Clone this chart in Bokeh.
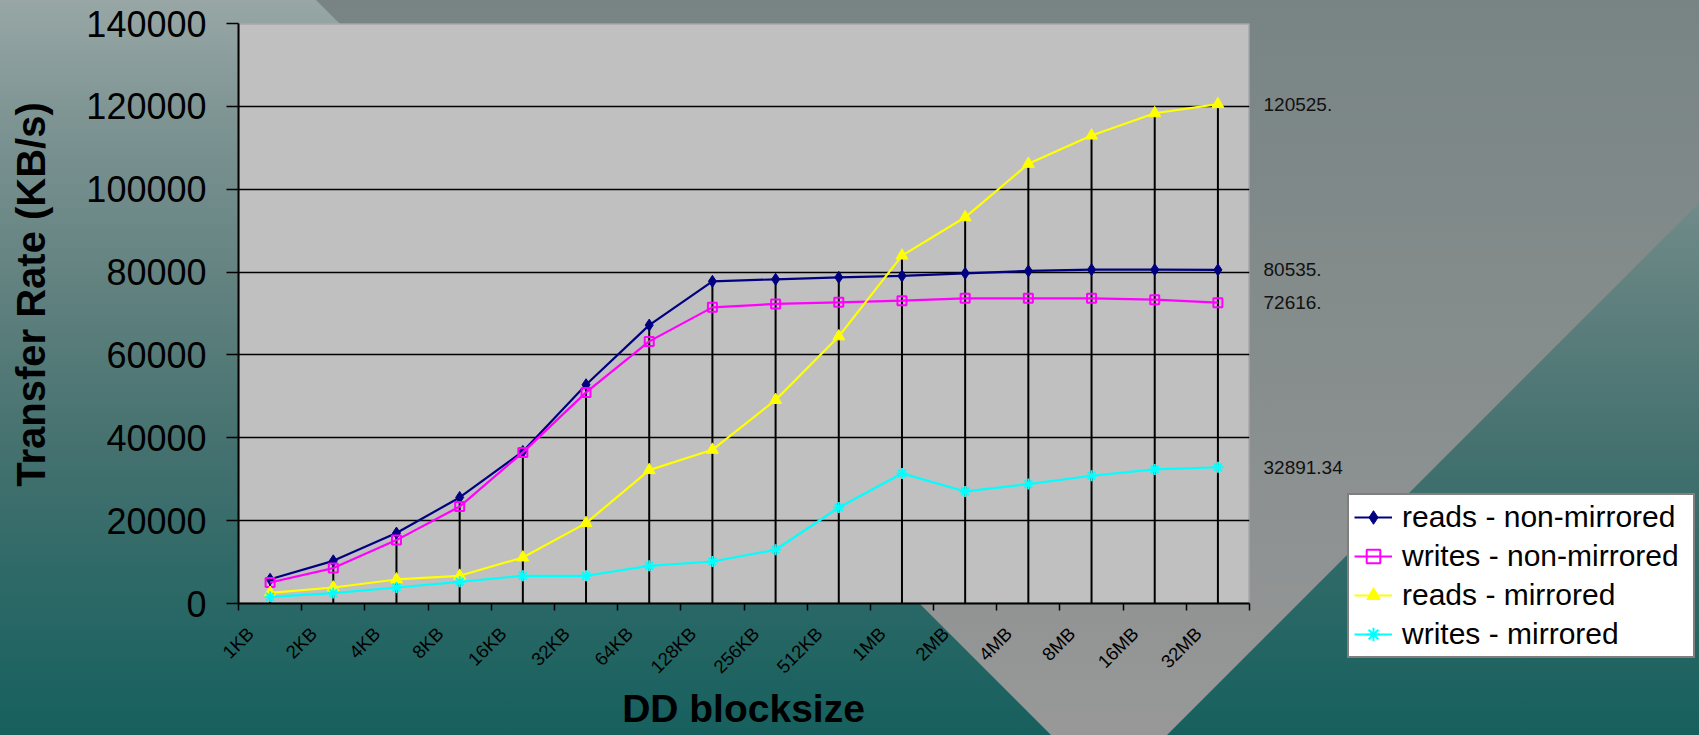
from math import pi
from bokeh.plotting import figure
from bokeh.layouts import row, column
from bokeh.models import (Range1d, FixedTicker, CustomJSTickFormatter, BasicTickFormatter,
                          BoxAnnotation, LinearAxis, Legend, LegendItem, Label,
                          InlineStyleSheet)
from bokeh.embed import file_html
from bokeh.resources import INLINE

# ---------------- data ----------------
categories = ["1KB", "2KB", "4KB", "8KB", "16KB", "32KB", "64KB", "128KB",
              "256KB", "512KB", "1MB", "2MB", "4MB", "8MB", "16MB", "32MB"]
reads_non_mirrored = [5850, 10300, 17000, 25600, 36700, 52800, 67200, 77760,
                      78250, 78730, 79070, 79700, 80270, 80590, 80590, 80535]
writes_non_mirrored = [5070, 8550, 15300, 23400, 36470, 50960, 63270, 71480,
                       72300, 72700, 73100, 73660, 73660, 73660, 73340, 72616]
reads_mirrored = [2580, 3860, 5800, 6690, 11110, 19400, 32200, 37100,
                  49120, 64480, 83970, 93220, 106120, 112950, 118340, 120525]
writes_mirrored = [1620, 2510, 3860, 5240, 6690, 6690, 9100, 10140,
                   12970, 23180, 31400, 27050, 28830, 30840, 32360, 32891.34]
series_names = ["reads - non-mirrored", "writes - non-mirrored",
                "reads - mirrored", "writes - mirrored"]
end_labels = ["80535.", "72616.", "120525.", "32891.34"]
y_ticks = [0, 20000, 40000, 60000, 80000, 100000, 120000, 140000]
x_title = "DD blocksize"
y_title = "Transfer Rate (KB/s)"

# ---------------- page geometry ----------------
W, H = 1699, 735
LEFT_W = 60             # strip holding the y title
MAIN_W = 1346 - LEFT_W  # main chart
TOP_H = 688             # height of the chart row
FL, FR, FT, FB = 238, 1249, 23, 603   # plot-area box in page pixels
FONT = "Liberation Sans"


def background_css(ox, oy, w, h):
    bg = [(0, "#98a7a6"), (120, "#7d9493"), (300, "#5f807e"), (450, "#44716f"),
          (600, "#2a6866"), (735, "#16605e")]
    gr = [(0, "#788484"), (400, "#888e8e"), (735, "#989898")]
    bgs = ", ".join(f"{c} {y - oy}px" for y, c in bg)
    grs = ", ".join(f"{c} {y - oy}px" for y, c in gr)
    return InlineStyleSheet(css=f"""
:host {{
  position: relative;
  isolation: isolate;
  background: linear-gradient(to bottom, {bgs});
}}
:host::before {{
  content: "";
  position: absolute;
  left: 0px; top: 0px; width: {w}px; height: {h + 20}px;
  background: linear-gradient(to bottom, {grs});
  clip-path: polygon({316 - ox}px {0 - oy}px, {1902 - ox}px {0 - oy}px, {1109 - ox}px {793 - oy}px);
  z-index: -1;
  pointer-events: none;
}}
""")


def blank_fig(w, h, ox, oy, mb_top=0, mb_bottom=0):
    f = figure(width=w, height=h, x_range=Range1d(-100, -99), y_range=Range1d(-100, -99),
               output_backend="svg", toolbar_location=None, title=None,
               x_axis_location=None, y_axis_location=None,
               min_border_left=0, min_border_right=0, min_border_top=mb_top,
               min_border_bottom=mb_bottom)
    f.stylesheets = [background_css(ox, oy, w, h)]
    f.border_fill_alpha = 0
    f.background_fill_alpha = 0
    f.outline_line_color = None
    f.grid.visible = False
    return f


# ---------------- main chart ----------------
p = figure(width=MAIN_W, height=TOP_H, x_range=Range1d(0, len(categories)),
           y_range=Range1d(0, 140000), output_backend="svg", toolbar_location=None,
           title=None, min_border_left=FL - LEFT_W, min_border_right=LEFT_W + MAIN_W - FR,
           min_border_top=FT, min_border_bottom=TOP_H - FB)
p.stylesheets = [background_css(LEFT_W, 0, MAIN_W, TOP_H)]
p.border_fill_alpha = 0
p.background_fill_color = "#C0C0C0"
p.background_fill_alpha = 1
p.outline_line_color = None

# grey border on top / right of the plot area
p.add_layout(BoxAnnotation(left=0, right=FR - FL, bottom=0, top=FB - FT,
                           left_units="screen", right_units="screen",
                           top_units="screen", bottom_units="screen",
                           fill_alpha=0, line_color="#808080", line_width=3,
                           level="image"))

xs = [i + 0.5 for i in range(len(categories))]
tops = [max(v) for v in zip(reads_non_mirrored, writes_non_mirrored, reads_mirrored, writes_mirrored)]
p.segment(x0=xs, y0=[0] * len(xs), x1=xs, y1=tops, line_color="black", line_width=2)

series = [reads_non_mirrored, writes_non_mirrored, reads_mirrored, writes_mirrored]
colors = ["#000080", "#FF00FF", "#FFFF00", "#00FFFF"]
markers = ["diamond", "square", "triangle", "asterisk"]


def draw_series(fig, vals, col, mk):
    lr = fig.line(xs, vals, line_color=col, line_width=2.2)
    if mk == "square":
        sr = fig.scatter(xs, vals, marker=mk, size=9, line_color=col, line_width=2,
                         fill_alpha=0)
    elif mk == "asterisk":
        sr = fig.scatter(xs, vals, marker=mk, size=11, line_color=col, line_width=2)
    else:
        sr = fig.scatter(xs, vals, marker=mk, size=12, line_color=col, fill_color=col)
    return lr, sr


for vals, col, mk in zip(series, colors, markers):
    draw_series(p, vals, col, mk)

p.xgrid.visible = False
p.ygrid.ticker = FixedTicker(ticks=y_ticks[1:-1])
p.ygrid.grid_line_color = "black"
p.ygrid.grid_line_width = 1.3

xa = p.xaxis[0]
xa.ticker = FixedTicker(ticks=[i + 0.19 for i in range(len(categories))],
                        minor_ticks=list(range(len(categories) + 1)))
xa.formatter = CustomJSTickFormatter(args=dict(names=categories),
                                     code="var n = names[Math.floor(tick)]; return n === undefined ? '' : n;")
xa.major_label_orientation = pi / 4
xa.major_tick_out = 0
xa.major_tick_in = 0
xa.major_tick_line_color = None
xa.minor_tick_out = 7
xa.minor_tick_in = 0
xa.minor_tick_line_color = "black"
xa.minor_tick_line_width = 1.5
xa.axis_line_color = "black"
xa.axis_line_width = 2
xa.major_label_standoff = 20
xa.major_label_text_font = FONT
xa.major_label_text_font_size = "18.5px"
xa.major_label_text_color = "black"

ya = p.yaxis[0]
ya.ticker = FixedTicker(ticks=y_ticks)
ya.formatter = BasicTickFormatter(use_scientific=False)
ya.major_tick_out = 12
ya.major_tick_in = 0
ya.major_tick_line_width = 1.5
ya.major_tick_line_color = "black"
ya.minor_tick_line_color = None
ya.axis_line_color = "black"
ya.axis_line_width = 2
ya.major_label_standoff = 20
ya.major_label_text_font = FONT
ya.major_label_text_font_size = "36px"
ya.major_label_text_color = "black"

# end-value labels on a right-hand axis
end_values = [s[-1] for s in series]
end_axis = LinearAxis(
    ticker=FixedTicker(ticks=end_values),
    formatter=CustomJSTickFormatter(
        args=dict(vals=end_values, labs=end_labels),
        code="for (let i = 0; i < vals.length; i++) { if (Math.abs(vals[i] - tick) < 1e-6) return labs[i]; } return '';"),
    axis_line_color=None, major_tick_line_color=None, minor_tick_line_color=None,
    major_tick_out=0, major_tick_in=0, major_label_standoff=14,
    major_label_text_font=FONT, major_label_text_font_size="19px",
    major_label_text_color="#111111")
p.add_layout(end_axis, "right")

# ---------------- y title strip ----------------
py = blank_fig(LEFT_W, TOP_H, 0, 0, mb_top=FT, mb_bottom=TOP_H - FB)
py.add_layout(Label(x=30, y=FB - 294, x_units="screen", y_units="screen", angle=pi / 2,
                    text=y_title, text_align="center", text_baseline="middle",
                    text_font=FONT, text_font_size="40px", text_font_style="bold",
                    text_color="black"))

# ---------------- x title strip ----------------
TITLE_H = H - TOP_H
pt = blank_fig(LEFT_W + MAIN_W, TITLE_H, 0, TOP_H)
pt.add_layout(Label(x=743, y=27, x_units="screen", y_units="screen",
                    text=x_title, text_align="center", text_baseline="alphabetic",
                    text_font=FONT, text_font_size="39px", text_font_style="bold",
                    text_color="black"))

# ---------------- legend panel ----------------
LEG_X0 = LEFT_W + MAIN_W
LEG_W = W - LEG_X0
pl = blank_fig(LEG_W, H, LEG_X0, 0)
items = []
for name, vals, col, mk in zip(series_names, series, colors, markers):
    lr, sr = draw_series(pl, vals, col, mk)
    items.append(LegendItem(label=name, renderers=[lr, sr]))

LEG_LEFT, LEG_TOP, LEG_H = 1347, 497, 161
legend = Legend(items=items, location=(LEG_LEFT - LEG_X0, H - (LEG_TOP + LEG_H)),
                border_line_color="black", border_line_width=2.5,
                background_fill_color="white", background_fill_alpha=1,
                label_text_font=FONT, label_text_font_size="30px",
                label_text_color="black", glyph_width=38, glyph_height=34,
                label_height=34, label_width=286, spacing=5, padding=5, margin=0,
                label_standoff=10)
pl.add_layout(legend)

layout = row(column(row(py, p), pt), pl)
open("out.html", "w").write(file_html(layout, INLINE))
